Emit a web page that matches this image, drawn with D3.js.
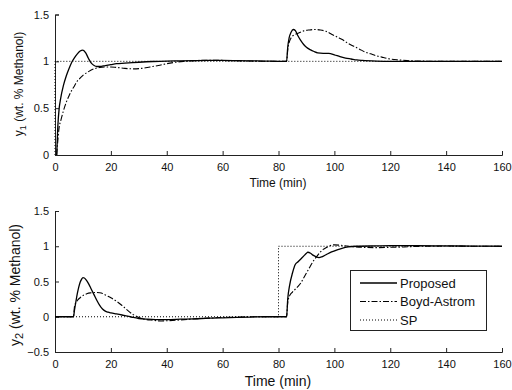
<!DOCTYPE html>
<html>
<head>
<meta charset="utf-8">
<script src="https://cdn.jsdelivr.net/npm/d3@7"></script>
<style>
  html, body { margin: 0; padding: 0; background: #fff; }
  svg { display: block; font-family: "Liberation Sans", Arial, sans-serif; }
</style>
</head>
<body>
<svg id="chart" width="512" height="390"></svg>
<script>
// ---- data: closed-loop responses (time in minutes) ----
const xTicks = [0, 20, 40, 60, 80, 100, 120, 140, 160];
const y1Ticks = [0, 0.5, 1, 1.5];
const y2Ticks = [-0.5, 0, 0.5, 1, 1.5];
const legendLabels = ["Proposed", "Boyd-Astrom", "SP"];

// y1, Proposed
const tP1 = [0.6, 1.0, 1.5, 2, 3, 4, 5, 6, 7, 8, 9, 10, 11, 12, 13, 14, 15, 16, 18, 20, 22, 25, 30, 35, 40, 45, 50, 55, 60, 65, 70, 75, 80, 82.9, 83.3, 83.8, 84.5, 85.3, 86, 87, 88, 89, 90, 91, 92, 93, 94, 96, 98, 100, 102, 104, 106, 108, 110, 115, 120, 160];
const vP1 = [0, 0.3, 0.5, 0.6, 0.74, 0.84, 0.92, 0.99, 1.04, 1.08, 1.11, 1.12, 1.09, 1.03, 0.98, 0.955, 0.945, 0.945, 0.955, 0.965, 0.975, 0.98, 0.99, 0.998, 1.003, 1.005, 1.008, 1.01, 1.01, 1.008, 1.005, 1.003, 1.0, 1.0, 1.15, 1.25, 1.31, 1.34, 1.33, 1.27, 1.22, 1.18, 1.15, 1.13, 1.115, 1.1, 1.09, 1.085, 1.085, 1.07, 1.05, 1.035, 1.025, 1.015, 1.01, 1.003, 1.0, 1.0];

// y1, Boyd-Astrom
const tB1 = [0.6, 1.0, 1.5, 2, 3, 4, 5, 6, 7, 8, 9, 10, 12, 14, 16, 18, 20, 22, 25, 28, 31, 34, 37, 40, 43, 46, 50, 55, 60, 65, 70, 80, 82.9, 83.3, 83.8, 84.5, 85.5, 87, 89, 91, 93, 95, 97, 99, 101, 103, 105, 107, 109, 111, 113, 115, 117, 120, 123, 126, 130, 140, 160];
const vB1 = [0, 0.15, 0.3, 0.36, 0.47, 0.56, 0.63, 0.69, 0.74, 0.79, 0.82, 0.85, 0.89, 0.92, 0.935, 0.94, 0.94, 0.935, 0.925, 0.92, 0.925, 0.94, 0.955, 0.975, 0.99, 1.0, 1.008, 1.012, 1.01, 1.006, 1.003, 1.0, 1.0, 1.12, 1.2, 1.25, 1.28, 1.3, 1.325, 1.335, 1.34, 1.335, 1.32, 1.29, 1.26, 1.23, 1.19, 1.16, 1.13, 1.1, 1.08, 1.06, 1.045, 1.025, 1.015, 1.008, 1.003, 1.0, 1.0];

// y1, set point
const tS1 = [0, 0, 160];
const vS1 = [0, 1, 1];

// y2, Proposed
const tP2 = [0, 6.6, 7, 7.5, 8, 8.5, 9, 9.5, 10, 10.5, 11, 12, 13, 14, 15, 16, 17, 18, 19, 20, 22, 24, 26, 28, 30, 33, 36, 40, 45, 50, 55, 60, 65, 70, 75, 82.9, 83.3, 84, 85, 86, 87, 88, 89, 90, 90.5, 91.5, 92.5, 93.5, 94.5, 95.5, 97, 99, 101, 103, 105, 108, 115, 120, 130, 140, 150, 160];
const vP2 = [0, 0, 0.1, 0.22, 0.33, 0.42, 0.49, 0.53, 0.555, 0.55, 0.53, 0.47, 0.39, 0.31, 0.23, 0.16, 0.11, 0.08, 0.065, 0.055, 0.04, 0.025, 0.01, -0.01, -0.025, -0.035, -0.04, -0.04, -0.035, -0.03, -0.02, -0.015, -0.01, -0.005, 0, 0, 0.25, 0.45, 0.62, 0.74, 0.78, 0.82, 0.86, 0.9, 0.915, 0.9, 0.87, 0.85, 0.84, 0.85, 0.88, 0.92, 0.95, 0.975, 0.99, 1.0, 1.005, 1.008, 1.008, 1.005, 1.002, 1.0];

// y2, Boyd-Astrom
const tB2 = [0, 6.6, 7, 7.5, 8, 9, 10, 11, 12, 13, 14, 15, 16, 17, 18, 19, 20, 22, 24, 26, 28, 30, 32, 35, 38, 41, 45, 50, 55, 60, 65, 70, 82.9, 83.3, 84, 85, 86, 87, 88, 89, 90, 91, 92, 93, 94, 95, 96, 97, 98, 99, 100, 102, 105, 110, 115, 120, 125, 130, 140, 150, 160];
const vB2 = [0, 0, 0.15, 0.2, 0.23, 0.27, 0.3, 0.32, 0.335, 0.34, 0.345, 0.345, 0.34, 0.33, 0.31, 0.29, 0.27, 0.22, 0.16, 0.09, 0.03, -0.01, -0.035, -0.05, -0.06, -0.055, -0.045, -0.03, -0.02, -0.01, -0.005, 0, 0, 0.2, 0.3, 0.35, 0.39, 0.43, 0.48, 0.55, 0.62, 0.69, 0.76, 0.82, 0.87, 0.92, 0.955, 0.98, 1.0, 1.015, 1.02, 1.015, 1.0, 0.985, 0.98, 0.985, 0.99, 0.998, 1.003, 1.0, 1.0];

// y2, set point
const tS2 = [0, 80, 80, 160];
const vS2 = [0, 0, 1, 1];

// ---- drawing ----
const svg = d3.select("#chart");
const zip = (t, v) => t.map((d, i) => [d, v[i]]);

const styles = {
  proposed: { dash: null, width: 1.3 },
  boyd: { dash: "6,2,1.5,2", width: 1.1 },
  sp: { dash: "1,2", width: 1.0 }
};

function panel(opts) {
  const x = d3.scaleLinear().domain([0, 160]).range([55, 502]);
  const y = d3.scaleLinear().domain(opts.yDomain).range(opts.yRange);
  const g = svg.append("g");

  const xAxis = d3.axisBottom(x).tickValues(xTicks).tickSize(-4).tickPadding(8).tickFormat(d3.format("d"));
  const yAxis = d3.axisLeft(y).tickValues(opts.yTicks).tickSize(-4).tickPadding(6).tickFormat(d => d3.format("")(d));

  const gx = g.append("g").attr("transform", `translate(0,${opts.yRange[0]})`).call(xAxis);
  const gy = g.append("g").attr("transform", `translate(55,0)`).call(yAxis);
  [gx, gy].forEach(a => {
    a.select(".domain").attr("stroke", "#222").attr("stroke-width", 1);
    a.selectAll(".tick line").attr("stroke", "#222");
    a.selectAll(".tick text").attr("fill", "#111").style("font-size", "11px");
  });

  const line = d3.line().x(d => x(d[0])).y(d => y(d[1])).curve(d3.curveMonotoneX);
  const lineLin = d3.line().x(d => x(d[0])).y(d => y(d[1]));

  g.append("path").datum(zip(opts.sp[0], opts.sp[1]))
    .attr("d", lineLin).attr("fill", "none").attr("stroke", "#000")
    .attr("stroke-width", styles.sp.width).attr("stroke-dasharray", styles.sp.dash);
  g.append("path").datum(zip(opts.boyd[0], opts.boyd[1]))
    .attr("d", line).attr("fill", "none").attr("stroke", "#000")
    .attr("stroke-width", styles.boyd.width).attr("stroke-dasharray", styles.boyd.dash);
  g.append("path").datum(zip(opts.prop[0], opts.prop[1]))
    .attr("d", line).attr("fill", "none").attr("stroke", "#000")
    .attr("stroke-width", styles.proposed.width);

  g.append("text").attr("x", 278).attr("y", opts.xLabelY)
    .attr("text-anchor", "middle").style("font-size", opts.labelSize + "px").attr("fill", "#111")
    .text("Time (min)");

  const yl = g.append("text")
    .attr("transform", `translate(${opts.yLabelX},${opts.yLabelCY}) rotate(-90)`)
    .attr("text-anchor", "middle").style("font-size", opts.labelSize + "px").attr("fill", "#111");
  yl.append("tspan").text("y");
  yl.append("tspan").attr("dy", 3).style("font-size", (opts.labelSize - 3) + "px").text(opts.sub);
  yl.append("tspan").attr("dy", -3).text(" (wt. % Methanol)");
  return { x, y, g };
}

panel({
  yDomain: [0, 1.5], yRange: [155, 14.5], yTicks: y1Ticks,
  prop: [tP1, vP1], boyd: [tB1, vB1], sp: [tS1, vS1],
  xLabelY: 187, yLabelX: 23, yLabelCY: 84, labelSize: 12, sub: "1"
});

panel({
  yDomain: [-0.5, 1.5], yRange: [352, 211], yTicks: y2Ticks,
  prop: [tP2, vP2], boyd: [tB2, vB2], sp: [tS2, vS2],
  xLabelY: 386, yLabelX: 20, yLabelCY: 285, labelSize: 14, sub: "2"
});

// legend
const lg = svg.append("g");
lg.append("rect").attr("x", 350.5).attr("y", 270.5).attr("width", 136).attr("height", 60)
  .attr("fill", "#fff").attr("stroke", "#222").attr("stroke-width", 1);
const keys = ["proposed", "boyd", "sp"];
legendLabels.forEach((lab, i) => {
  const cy = 283 + i * 18.5;
  const s = styles[keys[i]];
  lg.append("line").attr("x1", 360).attr("x2", 397).attr("y1", cy).attr("y2", cy)
    .attr("stroke", "#000").attr("stroke-width", s.width)
    .attr("stroke-dasharray", s.dash);
  lg.append("text").attr("x", 400).attr("y", cy + 4.5)
    .style("font-size", "13px").attr("fill", "#111").text(lab);
});
</script>
</body>
</html>
